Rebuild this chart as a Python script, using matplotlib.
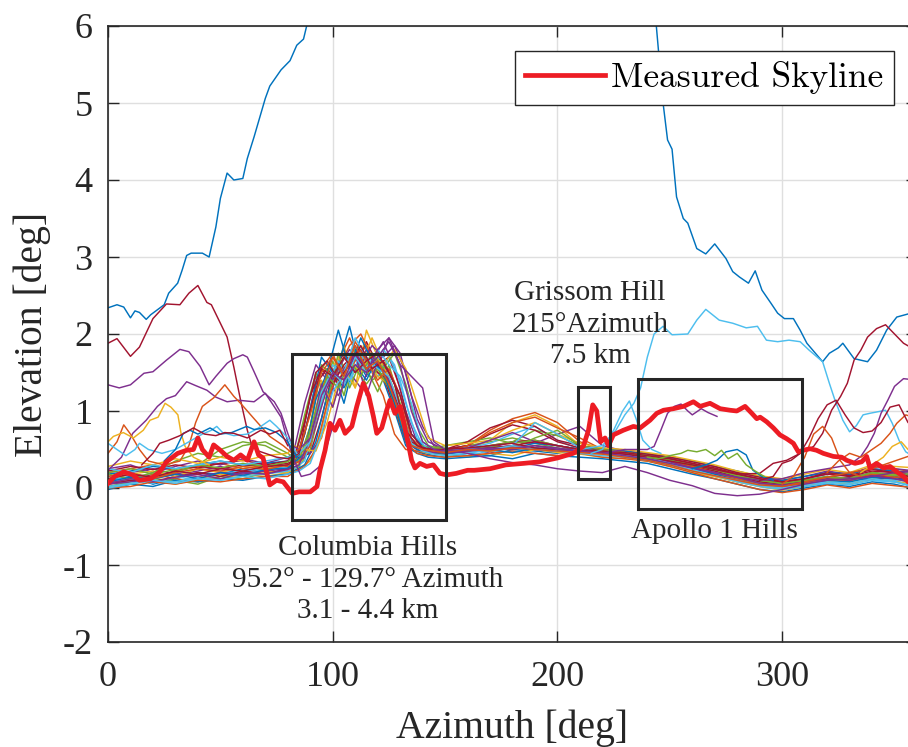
import matplotlib
matplotlib.use("Agg")
import matplotlib.pyplot as plt
from matplotlib.patches import Rectangle
from matplotlib.font_manager import FontProperties

plt.rcParams['font.family'] = ['Liberation Serif', 'DejaVu Serif']
plt.rcParams['axes.unicode_minus'] = False

# MATLAB default colour order
C = ['#0072BD', '#D95319', '#EDB120', '#7E2F8E', '#77AC30', '#4DBEEE', '#A2142F']

# ---------------- data ----------------
cloud_x = [0, 10, 20, 30, 40, 50, 60, 70, 80,
           85, 90, 95, 100, 105, 110, 115, 120, 125, 130, 135, 140, 145,
           150, 160, 170, 180, 190, 200, 210, 220, 230,
           240, 250, 260, 270, 280, 290, 300,
           310, 320, 330, 340, 350, 360]
cloud_xb = [0, 10, 20, 30, 40, 50, 60, 70, 80,
            82.5, 87.5, 92.5, 97.5, 102.5, 107.5, 112.5, 117.5, 122.5, 127.5, 132.5, 137.5, 142.5,
            150, 160, 170, 180, 190, 200, 210, 220, 230,
            240, 250, 260, 270, 280, 290, 300,
            310, 320, 330, 340, 350, 360]

c01 = [0.10,0.15,0.05,0.12,0.20,0.18,0.25,0.22,0.30,
       0.35,0.60,1.30,1.55,1.10,1.70,1.45,1.80,1.35,0.85,0.50,0.45,0.42,
       0.40,0.45,0.42,0.50,0.48,0.45,0.52,0.48,0.42,
       0.40,0.35,0.28,0.22,0.15,0.08,0.05,
       0.10,0.15,0.12,0.20,0.15,0.10]
c02 = [0.05,0.10,0.18,0.12,0.08,0.15,0.20,0.18,0.25,
       0.30,0.90,1.45,1.30,1.65,1.95,1.60,1.50,1.20,0.70,0.50,0.48,0.45,
       0.45,0.50,0.48,0.55,0.52,0.48,0.50,0.45,0.40,
       0.38,0.30,0.25,0.18,0.10,0.05,0.00,
       0.05,0.10,0.08,0.15,0.12,0.05]
c03 = [0.00,0.05,0.10,0.08,0.15,0.12,0.18,0.15,0.20,
       0.25,0.35,0.75,1.40,1.85,1.30,2.05,1.70,1.45,1.05,0.55,0.48,0.45,
       0.42,0.40,0.45,0.42,0.50,0.46,0.44,0.40,0.38,
       0.35,0.30,0.20,0.15,0.08,0.02,-0.02,
       0.02,0.08,0.05,0.12,0.10,0.00]
c04 = [0.15,0.20,0.25,0.18,0.22,0.28,0.20,0.25,0.35,
       0.45,1.10,1.60,1.40,1.20,1.50,1.30,1.65,1.90,1.55,1.00,0.60,0.50,
       0.48,0.52,0.45,0.55,0.50,0.48,0.55,0.50,0.45,
       0.42,0.38,0.30,0.25,0.18,0.12,0.08,
       0.12,0.18,0.20,0.25,0.22,0.15]
c05 = [0.02,0.08,0.12,0.10,0.05,0.15,0.12,0.20,0.22,
       0.28,0.50,1.10,1.65,1.20,1.80,1.55,1.25,1.60,1.10,0.60,0.50,0.48,
       0.50,0.55,0.60,0.65,0.58,0.52,0.48,0.45,0.42,
       0.40,0.32,0.25,0.20,0.12,0.05,0.02,
       0.05,0.12,0.10,0.18,0.15,0.05]
c06 = [0.08,0.12,0.06,0.15,0.10,0.18,0.22,0.25,0.28,
       0.35,0.70,1.40,1.20,1.60,1.35,1.75,1.50,1.65,1.20,0.75,0.50,0.45,
       0.45,0.42,0.48,0.46,0.52,0.50,0.45,0.48,0.40,
       0.38,0.32,0.28,0.20,0.14,0.08,0.04,
       0.08,0.05,0.12,0.10,0.08,0.06]
c07 = [0.12,0.18,0.15,0.22,0.28,0.25,0.30,0.28,0.32,
       0.40,0.45,0.90,1.50,1.75,1.55,1.90,1.60,1.70,1.30,0.70,0.55,0.50,
       0.48,0.50,0.55,0.60,0.62,0.55,0.50,0.48,0.45,
       0.42,0.38,0.32,0.25,0.18,0.10,0.06,
       0.10,0.14,0.18,0.15,0.20,0.12]
c08 = [-0.02,0.05,0.02,0.10,0.08,0.12,0.10,0.15,0.18,
       0.22,0.30,0.60,1.20,1.60,2.10,1.50,1.75,1.40,1.00,0.55,0.45,0.40,
       0.38,0.40,0.42,0.38,0.45,0.42,0.40,0.38,0.35,
       0.32,0.25,0.18,0.12,0.05,-0.02,-0.05,
       0.00,0.05,0.02,0.08,0.05,-0.02]
c09 = [0.20,0.25,0.30,0.22,0.28,0.32,0.25,0.30,0.28,
       0.35,0.80,1.55,1.75,1.40,1.65,1.85,1.50,1.30,0.90,0.55,0.50,0.48,
       0.50,0.55,0.75,0.90,0.98,0.85,0.60,0.50,0.45,
       0.40,0.35,0.28,0.20,0.12,0.05,0.00,
       0.05,0.15,0.10,0.20,0.25,0.20]
c10 = [0.05,0.12,0.10,0.05,0.12,0.18,0.15,0.22,0.20,
       0.25,0.40,1.05,1.45,1.70,1.45,1.60,1.95,1.60,1.25,0.65,0.50,0.45,
       0.45,0.50,0.62,0.85,0.95,0.80,0.55,0.45,0.40,
       0.35,0.28,0.22,0.15,0.08,0.02,-0.03,
       0.02,0.10,0.06,0.12,0.08,0.05]
c11 = [0.25,0.30,0.20,0.28,0.35,0.30,0.38,0.32,0.40,
       0.50,0.45,0.65,1.30,1.70,1.50,1.80,1.55,1.95,1.75,1.20,0.80,0.55,
       0.50,0.55,0.52,0.60,0.58,0.70,0.80,0.55,0.48,
       0.45,0.40,0.35,0.28,0.20,0.15,0.10,
       0.15,0.22,0.18,0.28,0.25,0.22]
c12 = [0.10,0.05,0.15,0.20,0.30,0.50,0.60,0.55,0.40,
       0.32,0.95,1.50,1.10,1.75,1.30,1.65,1.40,1.50,1.05,0.60,0.55,0.50,
       0.52,0.48,0.55,0.60,0.75,0.68,0.55,0.50,0.45,
       0.40,0.35,0.28,0.22,0.15,0.08,0.05,
       0.10,0.08,0.15,0.12,0.18,0.10]
c13 = [0.15,0.10,0.20,0.15,0.25,0.22,0.18,0.25,0.30,
       0.38,0.55,1.20,1.60,1.45,1.85,1.60,1.45,1.70,1.40,0.85,0.55,0.50,
       0.48,0.52,0.58,0.70,0.80,0.62,0.50,0.46,0.42,
       0.38,0.30,0.24,0.18,0.10,0.04,0.00,
       0.04,0.10,0.08,0.14,0.10,0.12]
c14 = [0.05,0.10,0.08,0.15,0.20,0.15,0.22,0.18,0.25,
       0.30,0.70,1.35,1.55,1.35,1.65,1.80,1.55,1.45,1.05,0.60,0.50,0.48,
       0.50,0.55,0.70,0.82,0.75,0.60,0.52,0.48,0.45,
       0.42,0.35,0.28,0.22,0.15,0.08,0.05,
       0.08,0.12,0.10,0.16,0.14,0.08]
c15 = [0.18,0.22,0.28,0.25,0.30,0.35,0.30,0.32,0.35,
       0.42,1.00,1.70,1.50,1.30,1.60,1.40,1.70,1.50,1.20,0.70,0.55,0.50,
       0.48,0.50,0.55,0.52,0.58,0.55,0.50,0.52,0.48,
       0.44,0.40,0.35,0.28,0.22,0.15,0.10,
       0.15,0.20,0.18,0.25,0.22,0.20]
c16 = [0.00,0.02,0.08,0.05,0.10,0.08,0.12,0.15,0.15,
       0.20,0.28,0.50,1.10,1.55,1.85,2.00,1.70,1.55,1.15,0.60,0.45,0.42,
       0.40,0.42,0.45,0.48,0.45,0.42,0.45,0.40,0.38,
       0.35,0.28,0.20,0.12,0.05,-0.02,-0.06,
       -0.02,0.04,0.00,0.06,0.03,0.00]
c17 = [0.12,0.18,0.22,0.15,0.25,0.20,0.28,0.25,0.30,
       0.35,0.60,1.40,1.05,1.55,1.30,1.70,1.45,1.35,0.95,0.55,0.50,0.48,
       0.46,0.50,0.48,0.52,0.55,0.50,0.46,0.44,0.40,
       0.36,0.30,0.22,0.15,0.10,0.04,0.00,
       0.05,0.12,0.08,0.15,0.18,0.12]
c18 = [0.05,0.08,0.12,0.18,0.15,0.20,0.18,0.22,0.25,
       0.30,0.40,0.80,1.30,1.55,1.80,1.60,1.85,1.70,1.85,1.50,0.90,0.60,
       0.50,0.48,0.52,0.55,0.50,0.48,0.52,0.45,0.40,
       0.36,0.30,0.25,0.18,0.10,0.05,0.02,
       0.06,0.10,0.14,0.10,0.15,0.08]
c19 = [0.18,0.12,0.20,0.35,0.45,0.40,0.55,0.60,0.45,
       0.35,0.80,1.60,1.45,1.70,1.55,1.35,1.55,1.30,0.85,0.55,0.55,0.52,
       0.55,0.60,0.65,0.58,0.62,0.55,0.50,0.48,0.46,
       0.42,0.36,0.30,0.24,0.16,0.10,0.06,
       0.10,0.15,0.12,0.20,0.18,0.15]
c20 = [0.02,0.06,0.10,0.08,0.14,0.10,0.16,0.18,0.22,
       0.25,0.35,0.90,1.35,1.65,1.40,1.75,1.55,1.80,1.60,1.10,0.65,0.50,
       0.46,0.45,0.50,0.55,0.52,0.48,0.45,0.42,0.40,
       0.36,0.30,0.22,0.16,0.08,0.02,-0.02,
       0.02,0.06,0.04,0.10,0.08,0.02]
c21 = [0.22,0.28,0.24,0.30,0.26,0.32,0.36,0.30,0.35,
       0.45,1.20,1.55,1.35,1.60,1.75,1.50,1.60,1.40,1.00,0.60,0.52,0.50,
       0.50,0.60,0.78,0.88,0.80,0.62,0.55,0.50,0.46,
       0.44,0.40,0.34,0.28,0.20,0.14,0.08,
       0.12,0.20,0.16,0.24,0.20,0.22]
c22 = [0.08,0.14,0.12,0.18,0.12,0.20,0.16,0.24,0.26,
       0.32,0.45,1.15,1.50,2.05,1.55,1.95,1.65,1.50,1.10,0.60,0.50,0.46,
       0.44,0.48,0.50,0.46,0.52,0.50,0.48,0.45,0.42,
       0.38,0.32,0.26,0.18,0.12,0.06,0.02,
       0.06,0.10,0.08,0.14,0.12,0.08]
c23 = [0.15,0.20,0.12,0.20,0.25,0.22,0.28,0.24,0.30,
       0.34,0.55,1.25,1.70,1.50,1.90,1.65,1.40,1.55,1.20,0.65,0.50,0.46,
       0.46,0.55,0.72,0.85,0.92,0.78,0.65,0.50,0.44,
       0.40,0.34,0.28,0.20,0.12,0.06,0.02,
       0.06,0.12,0.10,0.18,0.14,0.15]
c24 = [0.28,0.35,0.30,0.38,0.32,0.40,0.35,0.42,0.45,
       0.55,0.50,0.48,0.85,1.40,1.65,1.50,1.75,1.60,1.80,1.55,1.10,0.65,
       0.55,0.58,0.62,0.75,0.85,0.70,0.58,0.52,0.50,
       0.46,0.42,0.36,0.30,0.22,0.16,0.12,
       0.18,0.24,0.20,0.30,0.28,0.26]
c25 = [0.06,0.12,0.08,0.14,0.18,0.12,0.20,0.18,0.24,
       0.30,0.65,1.35,1.05,1.55,1.75,1.20,1.65,1.40,0.95,0.55,0.50,0.46,
       0.48,0.52,0.62,0.72,0.60,0.55,0.50,0.46,0.44,
       0.40,0.34,0.26,0.20,0.14,0.06,0.04,
       0.08,0.12,0.10,0.16,0.12,0.06]
c26 = [0.20,0.25,0.18,0.24,0.30,0.26,0.32,0.28,0.34,
       0.40,0.50,1.00,1.45,1.30,1.65,1.45,1.75,1.55,1.75,1.35,0.80,0.55,
       0.50,0.48,0.55,0.52,0.65,0.75,0.55,0.50,0.46,
       0.42,0.36,0.30,0.24,0.16,0.10,0.06,
       0.10,0.14,0.12,0.20,0.16,0.20]
c27 = [0.00,0.05,0.10,0.06,0.12,0.10,0.15,0.12,0.18,
       0.22,0.32,0.70,1.25,1.50,1.95,1.70,1.55,1.45,1.05,0.58,0.48,0.44,
       0.42,0.45,0.50,0.55,0.85,0.70,0.52,0.46,0.42,
       0.40,0.32,0.24,0.16,0.10,0.04,0.00,
       0.04,0.08,0.06,0.12,0.08,0.00]
c28 = [0.12,0.18,0.14,0.22,0.18,0.25,0.22,0.28,0.30,
       0.36,0.85,1.50,1.65,1.40,1.60,1.85,1.55,1.65,1.35,0.75,0.55,0.50,
       0.48,0.50,0.52,0.55,0.60,0.55,0.50,0.48,0.46,
       0.42,0.38,0.32,0.26,0.18,0.12,0.08,
       0.12,0.18,0.15,0.22,0.20,0.12]
cloud_lines = [c01, c02, c03, c04, c05, c06, c07, c08, c09, c10, c11, c12, c13, c14,
               c15, c16, c17, c18, c19, c20, c21, c22, c23, c24, c25, c26, c27, c28]

# distinctive simulated skylines
blue_x = [0, 4, 7, 10, 12, 14, 17, 19, 25, 27, 31, 33, 35, 37, 42, 45, 48, 50, 53, 56,
          60, 62, 65, 70, 72, 77, 81, 84, 87, 88.4, 95, 150, 200, 240, 244, 247, 249,
          251, 253, 256, 258, 262, 266, 270, 275, 278, 281, 285, 288, 291, 295, 298,
          301, 305, 308, 311, 318, 321, 325, 327, 332, 338, 342, 346.5, 351, 356, 360]
blue_y = [2.34, 2.38, 2.35, 2.21, 2.30, 2.28, 2.19, 2.25, 2.38, 2.53, 2.66, 2.83, 3.02,
          3.05, 3.05, 3.00, 3.39, 3.76, 4.09, 4.00, 4.02, 4.28, 4.56, 5.06, 5.22, 5.43,
          5.55, 5.75, 5.83, 6.00, 7.00, 9.00, 8.50, 6.50, 6.00, 5.00, 4.52, 4.40, 3.78,
          3.50, 3.44, 3.11, 3.04, 3.17, 2.98, 2.81, 2.74, 2.66, 2.82, 2.57, 2.40, 2.27,
          2.20, 2.20, 2.05, 1.88, 1.64, 1.75, 1.82, 1.88, 1.68, 1.64, 1.79, 2.05, 2.22,
          2.26, 2.30]

lblue_x = [0, 10, 20, 30, 40, 50, 60, 70, 80, 85, 90, 95, 100, 105, 110, 115, 120, 125,
           130, 135, 140, 145, 150, 160, 170, 180, 190, 200, 210, 220, 226, 230, 234, 237,
           240, 243, 247, 251, 258, 262, 266, 272, 278, 284, 289, 293, 298, 303, 308, 312,
           318, 321, 323.5, 327, 330, 333, 336, 339, 346, 349, 352, 355, 360]
lblue_y = [0.25, 0.20, 0.30, 0.25, 0.30, 0.35, 0.30, 0.35, 0.40, 0.45, 0.60, 1.25, 1.50,
           1.35, 1.70, 1.50, 1.80, 1.60, 1.45, 1.10, 0.60, 0.50, 0.48, 0.52, 0.50, 0.55,
           0.50, 0.48, 0.50, 0.55, 0.75, 0.95, 1.10, 1.30, 1.70, 2.00, 2.10, 1.99, 2.00,
           2.18, 2.32, 2.18, 2.14, 2.08, 2.10, 1.92, 1.90, 1.92, 1.90, 1.79, 1.64, 1.36,
           1.14, 0.88, 0.73, 0.81, 0.95, 0.97, 1.01, 0.84, 0.62, 0.47, 0.38]

dred_x = [0, 4, 10, 14, 20, 26, 32, 36, 40, 44, 46, 49, 53, 56, 59, 62, 64, 67, 70, 75,
          80, 85, 90, 95, 100, 105, 110, 115, 120, 125, 130, 135, 140, 145, 150, 160, 170,
          180, 190, 200, 210, 220, 230, 240, 250, 260, 270, 280, 290, 296, 302, 308, 314,
          318, 322, 326, 329, 332, 335, 338, 342, 346, 350, 354, 357, 360]
dred_y = [1.88, 1.94, 1.71, 1.83, 2.20, 2.39, 2.38, 2.53, 2.63, 2.41, 2.38, 2.20, 1.96,
          1.57, 1.14, 0.75, 0.55, 0.48, 0.45, 0.40, 0.38, 0.45, 1.00, 1.55, 1.45, 1.70,
          1.50, 1.65, 1.75, 1.50, 1.20, 0.70, 0.52, 0.50, 0.50, 0.52, 0.55, 0.58, 0.52,
          0.50, 0.48, 0.46, 0.44, 0.40, 0.35, 0.30, 0.24, 0.18, 0.19, 0.32, 0.36, 0.45,
          0.54, 0.71, 1.01, 1.19, 1.36, 1.66, 1.79, 1.96, 2.07, 2.12, 2.00, 1.88, 1.83,
          1.86]

purpA_x = [0, 5, 10, 16, 20, 26, 32, 36, 41, 45, 48, 53, 56, 60, 62, 65, 69, 74, 77, 80,
           82, 85, 90, 95, 100, 105, 110, 115, 120, 125, 130, 135, 140, 145, 150, 160, 170,
           180, 190, 200, 210, 220, 230, 240, 250, 260, 270, 280, 290, 300, 310, 320, 330,
           335, 338, 341, 344, 347, 350, 354, 357, 360]
purpA_y = [1.34, 1.30, 1.34, 1.49, 1.51, 1.66, 1.80, 1.77, 1.58, 1.34, 1.45, 1.62, 1.68,
           1.73, 1.70, 1.51, 1.25, 1.12, 0.97, 0.71, 0.55, 0.50, 0.65, 1.20, 1.50, 1.40,
           1.75, 1.55, 1.70, 1.90, 1.60, 1.00, 0.60, 0.50, 0.48, 0.50, 0.52, 0.50, 0.55,
           0.52, 0.48, 0.45, 0.42, 0.38, 0.32, 0.26, 0.20, 0.14, 0.10, 0.12, 0.20, 0.25,
           0.30, 0.41, 0.54, 0.71, 0.97, 1.14, 1.32, 1.42, 1.41, 1.36]

purpB_x = [0, 6, 11, 17, 22, 26, 30, 35, 39, 44, 48, 53, 58, 65, 70, 73, 77, 80, 83, 86,
           90, 95, 100, 105, 110, 115, 120, 125, 130, 135, 140, 145, 150, 160, 170, 180,
           190, 200, 210, 220, 230, 240, 250, 260, 270, 280, 290, 300, 310, 320, 330, 340,
           350, 360]
purpB_y = [0.23, 0.40, 0.71, 0.88, 1.06, 1.16, 1.20, 1.38, 1.33, 1.27, 1.18, 1.12, 1.14,
           1.12, 1.23, 1.10, 0.92, 0.60, 0.35, 0.15, 0.18, 0.30, 0.80, 1.40, 1.60, 1.50,
           1.80, 1.95, 1.60, 1.45, 1.30, 0.60, 0.50, 0.45, 0.38, 0.33, 0.30, 0.25, 0.22,
           0.20, 0.28, 0.20, 0.10, 0.03, -0.07, -0.10, -0.08, -0.02, 0.05, 0.10, 0.12,
           0.15, 0.20, 0.23]

purpC_x = [145, 150, 160, 170, 180, 190, 200, 210, 220, 230, 240, 243, 246, 249, 252,
           255, 258, 260, 264, 267, 271]
purpC_y = [0.50, 0.45, 0.48, 0.50, 0.52, 0.55, 0.50, 0.48, 0.45, 0.50, 0.50, 0.54, 0.75,
           0.97, 1.06, 1.09, 1.00, 0.95, 1.03, 0.98, 0.93]

orangeL_x = [0, 4, 7, 10, 14, 18, 25, 32, 36, 39, 42, 47, 52, 56, 59, 65, 72, 78, 82, 85,
             90, 95, 100, 105, 110, 115, 120, 125, 130, 135, 140, 145, 150, 160, 170, 180,
             190, 200, 210, 220, 230, 240, 250, 260, 270, 280, 290, 300, 310, 320, 330,
             340, 350, 360]
orangeL_y = [0.45, 0.60, 0.82, 0.70, 0.50, 0.35, 0.30, 0.35, 0.55, 0.85, 1.06, 1.17, 1.34,
             1.19, 1.10, 0.90, 0.67, 0.55, 0.45, 0.50, 0.95, 1.50, 1.70, 1.45, 1.85, 1.55,
             1.65, 1.35, 0.95, 0.55, 0.50, 0.48, 0.46, 0.50, 0.48, 0.52, 0.50, 0.48, 0.46,
             0.44, 0.40, 0.36, 0.30, 0.22, 0.16, 0.10, 0.04, 0.02, 0.08, 0.14, 0.20, 0.25,
             0.35, 0.45]

orangeR_x = [320, 325, 330, 335, 340, 344, 348, 351, 355, 360]
orangeR_y = [0.20, 0.35, 0.45, 0.40, 0.50, 0.58, 0.71, 0.84, 0.95, 0.90]
orangeR2_x = [300, 305, 310, 314, 318, 322, 326, 330, 335]
orangeR2_y = [0.05, 0.15, 0.40, 0.70, 0.80, 0.65, 0.35, 0.20, 0.15]

yellowL_x = [0, 2.4, 6.8, 11.3, 15.7, 18.7, 22.3, 25.4, 28, 31.1, 32.5, 34.3, 38, 45]
yellowL_y = [0.60, 0.67, 0.72, 0.65, 0.75, 0.88, 0.92, 1.10, 1.05, 0.95, 0.71, 0.54, 0.40, 0.30]
yellowR_x = [335, 340, 345, 349, 353, 356, 360]
yellowR_y = [0.20, 0.30, 0.40, 0.54, 0.60, 0.50, 0.45]

lblueL_x = [0, 4, 8, 12, 14, 18, 24, 30, 36, 42, 46, 48.4, 51, 56, 62, 67, 72, 75, 80, 84]
lblueL_y = [0.58, 0.50, 0.42, 0.50, 0.58, 0.50, 0.45, 0.50, 0.60, 0.70, 0.75, 0.80, 0.72,
            0.68, 0.70, 0.78, 0.88, 0.80, 0.65, 0.45]
lblueG_x = [215, 220, 225, 229, 232, 235, 238, 242, 246]
lblueG_y = [0.45, 0.50, 0.75, 1.00, 1.13, 0.90, 0.62, 0.50, 0.45]

blueL_x = [25, 30, 33.5, 36.5, 40, 45.4, 50, 55, 61.7, 65, 70, 75, 80, 84]
blueL_y = [0.35, 0.50, 0.71, 0.75, 0.70, 0.78, 0.70, 0.72, 0.80, 0.76, 0.78, 0.72, 0.60, 0.40]
blueA_x = [260, 266, 271, 275, 280, 284, 287, 291, 296]
blueA_y = [0.25, 0.30, 0.36, 0.47, 0.50, 0.43, 0.23, 0.15, 0.10]

dredL_x = [15, 20, 23, 27, 32, 38, 43, 48, 52, 56, 62, 68, 72, 76.5, 80]
dredL_y = [0.30, 0.45, 0.58, 0.62, 0.68, 0.78, 0.70, 0.68, 0.72, 0.71, 0.65, 0.75, 0.70,
           0.75, 0.55]
dredR_x = [290, 296, 300, 304, 308, 312, 316, 320, 324, 328, 332, 336, 340, 344, 348, 352,
           356, 360]
dredR_y = [0.10, 0.15, 0.32, 0.36, 0.45, 0.65, 0.90, 1.08, 1.14, 0.95, 0.78, 0.72, 0.74,
           0.85, 1.05, 1.08, 0.85, 0.78]

greenA_x = [240, 245, 250, 255, 258, 262, 266, 270, 273, 276, 280, 284, 288, 292]
greenA_y = [0.40, 0.38, 0.42, 0.45, 0.49, 0.47, 0.50, 0.42, 0.49, 0.38, 0.45, 0.30, 0.22, 0.15]

special = [(blue_x, blue_y, C[0]), (lblue_x, lblue_y, C[5]), (dred_x, dred_y, C[6]),
           (purpA_x, purpA_y, C[3]), (purpB_x, purpB_y, C[3]), (purpC_x, purpC_y, C[3]),
           (orangeL_x, orangeL_y, C[1]), (orangeR_x, orangeR_y, C[1]),
           (orangeR2_x, orangeR2_y, C[1]), (yellowL_x, yellowL_y, C[2]),
           (yellowR_x, yellowR_y, C[2]), (lblueL_x, lblueL_y, C[5]),
           (lblueG_x, lblueG_y, C[5]), (blueL_x, blueL_y, C[0]), (blueA_x, blueA_y, C[0]),
           (dredL_x, dredL_y, C[6]), (dredR_x, dredR_y, C[6]), (greenA_x, greenA_y, C[4])]

meas_x = [0, 3, 7, 11, 14, 19, 23, 26, 31, 35, 38, 40, 42, 45, 47, 50, 53, 56, 59, 62, 65,
          67, 69, 72, 75, 78, 82, 85, 90, 93, 94.3, 96.6, 98.8, 101, 103.2, 105.5, 108.5,
          110.7, 113.6, 116, 118.1, 119.6, 121.8, 124, 125.5, 127.7, 130, 131.4, 133.6,
          135.1, 136.6, 138.8, 141.8, 144.8, 147.7, 150.7, 155, 160, 163, 170, 177, 185,
          192, 200, 207, 211.5, 213.8, 215.7, 217.5, 219.2, 221.2, 222.7, 224.9, 229.3,
          233.8, 236.8, 241.2, 244.2, 247.2, 251.6, 256.1, 260.5, 263.5, 267.9, 272.4,
          276.8, 279.8, 283.5, 286.5, 288.7, 290.2, 293.1, 296.1, 299, 302, 305, 307.2,
          309.4, 312.4, 315.3, 318.3, 322.8, 326.5, 328.7, 332.4, 335.4, 337.6, 339.1,
          342, 345, 348, 351, 354, 356, 360]
meas_y = [0.06, 0.15, 0.21, 0.17, 0.10, 0.12, 0.21, 0.34, 0.45, 0.49, 0.50, 0.65, 0.50,
          0.40, 0.56, 0.49, 0.41, 0.36, 0.43, 0.36, 0.60, 0.43, 0.39, 0.04, 0.10, 0.08,
          -0.07, -0.05, -0.05, 0.02, 0.23, 0.49, 0.84, 0.75, 0.88, 0.71, 0.80, 1.06, 1.36,
          1.20, 0.93, 0.71, 0.78, 1.01, 1.14, 0.97, 1.06, 0.88, 0.58, 0.36, 0.26, 0.32,
          0.28, 0.30, 0.19, 0.17, 0.19, 0.23, 0.23, 0.25, 0.30, 0.32, 0.34, 0.39, 0.45,
          0.54, 0.75, 1.08, 1.00, 0.60, 0.65, 0.55, 0.69, 0.75, 0.80, 0.78, 0.88, 0.97,
          1.01, 1.03, 1.06, 1.12, 1.06, 1.10, 1.03, 1.01, 1.00, 1.06, 0.97, 0.90, 0.92,
          0.86, 0.78, 0.69, 0.64, 0.58, 0.47, 0.49, 0.51, 0.49, 0.45, 0.41, 0.40, 0.36,
          0.32, 0.34, 0.41, 0.26, 0.32, 0.26, 0.28, 0.21, 0.15, 0.08, 0.06]

# boxes: (x0, x1, y0, y1)
box_columbia = (81.7, 150.3, -0.41, 1.74)
box_grissom = (209.3, 223.4, 0.12, 1.31)
box_apollo = (236.0, 308.7, -0.27, 1.41)

x_ticks = [0, 100, 200, 300]
y_ticks = [-2, -1, 0, 1, 2, 3, 4, 5, 6]

# sanity checks
for i, ys in enumerate(cloud_lines):
    if len(ys) != len(cloud_x):
        raise ValueError(f"cloud line {i+1}: {len(ys)} values")
for i, (xs, ys, _) in enumerate(special):
    if len(xs) != len(ys):
        raise ValueError(f"special line {i}: {len(xs)} x vs {len(ys)} y")
if len(meas_x) != len(meas_y):
    raise ValueError(f"measured: {len(meas_x)} vs {len(meas_y)}")

# ---------------- figure ----------------
DARK = '#262626'
fig = plt.figure(figsize=(9.08, 7.47), dpi=100)
ax = fig.add_axes([108 / 908, 105 / 747, 809 / 908, 616 / 747])

for i, ys in enumerate(cloud_lines):
    xs = cloud_xb if i % 2 else cloud_x
    ax.plot(xs, ys, color=C[i % 7], lw=1.05, zorder=2)
for xs, ys, col in special:
    ax.plot(xs, ys, color=col, lw=1.05, zorder=2.1)

ax.plot(meas_x, meas_y, color='#ED1C24', lw=3.4, zorder=3, label='Measured Skyline')

for (x0, x1, y0, y1) in (box_columbia, box_grissom, box_apollo):
    ax.add_patch(Rectangle((x0, y0), x1 - x0, y1 - y0, fill=False,
                           edgecolor=DARK, lw=2.2, zorder=4))

ax.text(115.5, -1.19, "Columbia Hills\n95.2° - 129.7° Azimuth\n3.1 - 4.4 km",
        ha='center', va='center', multialignment='center', fontsize=21, color=DARK,
        linespacing=1.28, zorder=5)
ax.text(214.5, 2.12, "Grissom Hill\n215°Azimuth\n7.5 km",
        ha='center', va='center', multialignment='center', fontsize=21, color=DARK,
        linespacing=1.28, zorder=5)
ax.text(269.7, -0.56, "Apollo 1 Hills", ha='center', va='center', fontsize=21,
        color=DARK, zorder=5)

ax.set_xlim(0, 360)
ax.set_ylim(-2, 6)
ax.set_xticks(x_ticks)
ax.set_yticks(y_ticks)
ax.set_xticklabels([str(v) for v in x_ticks])
ax.set_yticklabels([str(v) for v in y_ticks])
ax.tick_params(axis='both', direction='in', length=8, width=1.0, color=DARK,
               labelcolor=DARK, labelsize=26, top=True, right=True)
ax.tick_params(axis='x', pad=14)
ax.tick_params(axis='y', pad=11)
for sp in ax.spines.values():
    sp.set_color(DARK)
    sp.set_linewidth(1.2)
ax.grid(True, color='#dfdfdf', lw=1.0)
ax.set_axisbelow(True)

ax.set_xlabel("Azimuth [deg]", fontsize=28.5, color=DARK, labelpad=11)
ax.set_ylabel("Elevation [deg]", fontsize=28.5, color=DARK, labelpad=8)

leg = ax.legend(loc='upper right', bbox_to_anchor=(894 / 908, 1 - 50.7 / 747),
                bbox_transform=fig.transFigure, borderaxespad=0,
                prop=FontProperties(family='cmr10', size=25.5),
                handlelength=2.25, handletextpad=0.17, borderpad=0.3,
                fancybox=False, framealpha=1, edgecolor=DARK)
leg.get_frame().set_linewidth(1.0)
leg.set_zorder(6)

fig.savefig('out.png', dpi=100)
